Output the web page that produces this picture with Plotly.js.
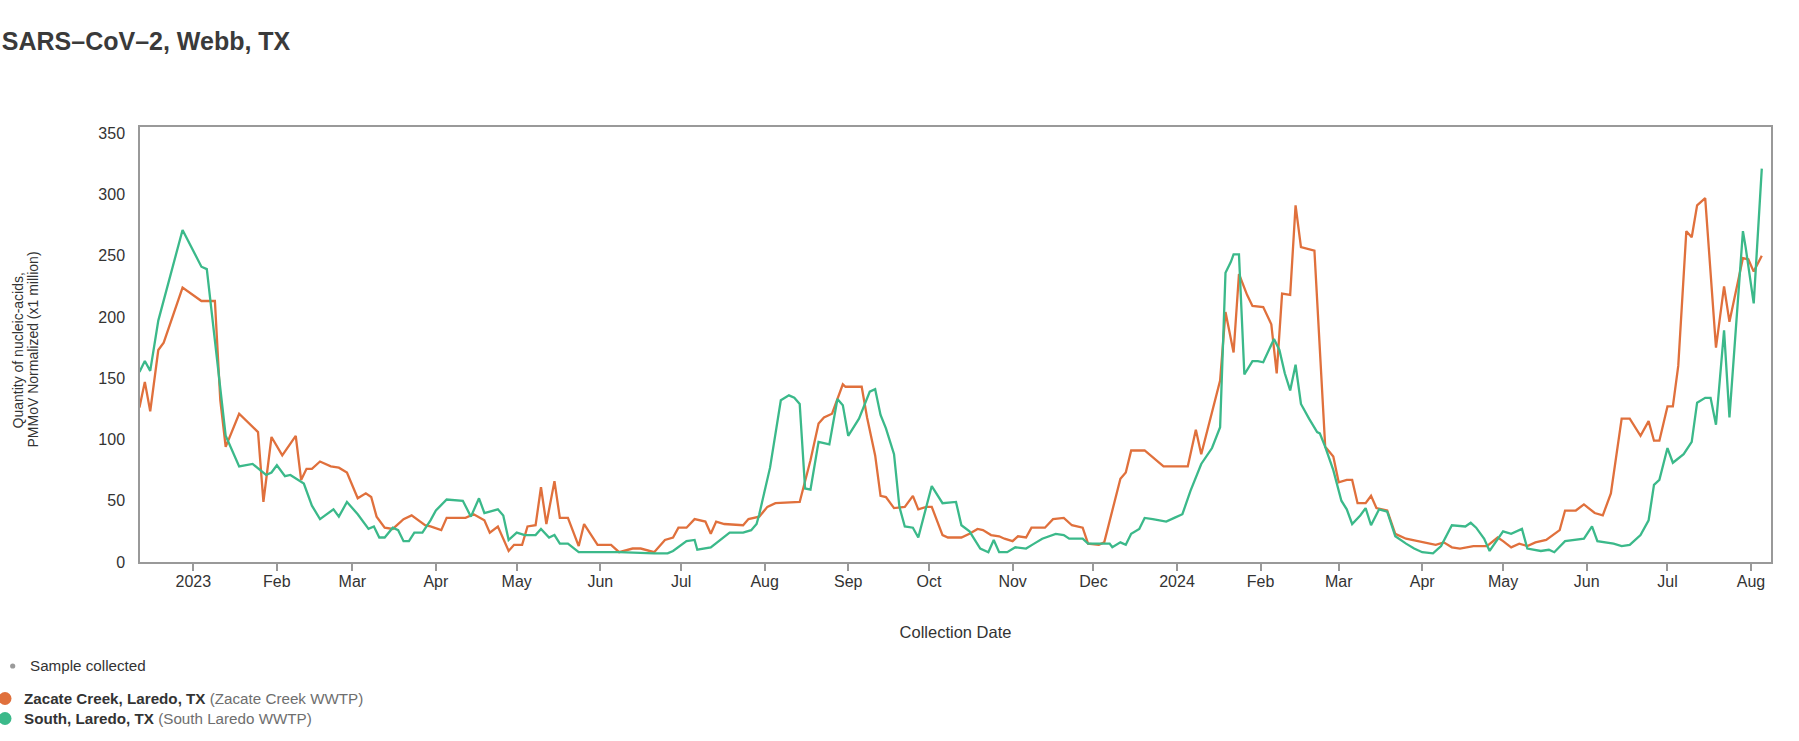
<!DOCTYPE html>
<html>
<head>
<meta charset="utf-8">
<script src="https://cdn.plot.ly/plotly-3.0.1.min.js"></script>
<style>
  html, body { margin: 0; padding: 0; background: #fff; }
  #chart { width: 1799px; height: 741px; }
</style>
</head>
<body>
<div id="chart"></div>
<script>
// SARS-CoV-2 wastewater levels, Webb county TX
// sample days are counted from 2023-01-01

var zacateDay = [-20,-18,-16,-13,-11,-4,3,8,10,12,17,24,26,29,33,38,40,42,44,47,51,54,57,61,64,66,68,71,74,78,81,86,88,92,94,101,104,108,110,113,117,119,122,124,127,129,131,134,136,139,143,145,150,155,158,163,166,171,175,178,180,183,186,190,192,194,197,204,206,210,213,216,225,229,232,234,237,241,242,248,250,253,255,257,260,264,267,269,272,274,278,280,285,288,291,293,296,299,301,304,306,309,311,316,319,323,326,330,332,336,338,341,344,346,348,353,360,369,372,374,381,383,386,388,391,393,397,400,402,404,407,409,411,416,420,423,425,428,430,432,435,437,439,443,446,450,458,461,464,467,470,475,480,484,486,489,492,495,498,502,507,509,513,516,520,523,526,530,533,537,540,542,544,547,549,551,554,556,558,561,565,568,570,575,577,579,582];
var zacateVal = [126,147,123,173,179,224,213,213,132,94,121,106,49,102,87,103,67,76,76,82,78,77,73,52,56,53,37,28,27,35,38,30,29,26,36,36,39,34,24,29,9,14,14,29,30,61,31,66,36,36,13,31,14,14,8,11,11,8,18,20,28,28,35,33,23,33,31,30,35,37,45,48,49,83,113,118,121,145,143,143,118,87,54,53,44,45,54,43,45,45,22,20,20,23,27,26,22,21,19,17,21,20,28,28,35,36,30,28,15,14,16,41,68,73,91,91,78,78,108,88,148,204,171,235,218,209,208,194,154,219,218,291,257,254,94,86,65,67,67,48,48,54,44,42,23,19,15,14,16,12,11,13,13,20,17,12,15,13,16,18,26,42,42,47,40,38,56,117,117,103,115,99,99,127,127,160,270,265,291,297,175,225,196,248,247,237,250];

var southDay = [-20,-18,-16,-13,-4,3,5,10,12,17,22,27,29,31,34,36,41,44,47,52,54,57,61,65,67,69,71,74,76,78,80,82,85,88,90,94,100,103,106,108,113,115,117,120,123,127,129,132,134,136,139,143,150,158,171,176,178,183,186,187,192,199,204,207,209,210,214,218,221,223,225,227,229,232,236,239,241,243,247,251,253,255,257,260,262,264,267,269,274,278,283,285,288,292,295,297,299,302,305,309,312,315,320,323,325,330,332,340,341,344,346,348,351,353,356,361,364,367,370,374,378,381,383,385,386,388,390,393,395,397,401,403,405,407,409,411,414,417,418,420,423,426,428,430,433,435,437,440,443,446,450,453,456,460,463,467,472,474,476,479,481,484,486,489,493,495,500,503,505,509,516,519,521,527,530,533,537,540,542,544,547,549,553,556,558,561,563,565,568,570,573,575,576,579,582];
var southVal = [155,164,156,197,271,241,239,140,103,78,80,71,73,79,70,71,64,46,35,43,37,49,39,27,29,20,20,28,26,17,17,24,24,34,42,51,50,37,52,40,43,38,18,24,22,22,27,20,22,15,15,8,8,8,7,7,9,17,18,10,12,24,24,26,31,39,77,132,136,134,129,60,59,98,96,133,128,103,117,139,141,120,109,88,45,29,28,20,62,48,49,30,25,11,8,18,8,8,12,11,15,19,23,22,19,19,15,15,12,16,14,23,27,36,35,33,36,39,58,80,93,110,236,245,251,251,153,164,164,163,182,173,154,140,161,129,117,106,105,94,75,50,43,31,38,44,30,43,41,21,15,11,8,7,13,30,29,32,28,19,9,19,25,23,27,11,9,10,8,17,19,29,17,15,13,14,22,34,63,67,93,81,88,98,130,134,134,112,189,118,213,270,257,211,321];

var tickDates = ['2023-01-01','2023-02-01','2023-03-01','2023-04-01','2023-05-01','2023-06-01','2023-07-01','2023-08-01','2023-09-01','2023-10-01','2023-11-01','2023-12-01','2024-01-01','2024-02-01','2024-03-01','2024-04-01','2024-05-01','2024-06-01','2024-07-01','2024-08-01'];
var tickLabels = ['2023','Feb','Mar','Apr','May','Jun','Jul','Aug','Sep','Oct','Nov','Dec','2024','Feb','Mar','Apr','May','Jun','Jul','Aug'];
var yTicks = [0, 50, 100, 150, 200, 250, 300, 350];

var orange = '#e0703c';
var green = '#3bb98a';
var textCol = '#333333';
var fontFam = '"Liberation Sans", Arial, Helvetica, sans-serif';

function toDate(d) {
    return new Date(Date.UTC(2023, 0, 1 + d)).toISOString().slice(0, 10);
}

var zacate = {
    x: zacateDay.map(toDate),
    y: zacateVal,
    type: 'scatter',
    mode: 'lines',
    name: 'Zacate Creek, Laredo, TX',
    line: {color: orange, width: 2.3},
    showlegend: false
};

var south = {
    x: southDay.map(toDate),
    y: southVal,
    type: 'scatter',
    mode: 'lines',
    name: 'South, Laredo, TX',
    line: {color: green, width: 2.3},
    showlegend: false
};

// plot area in page pixels, used to place the notes round the chart
var L = 140, R = 1771, T = 127, B = 562;
function px(x) { return (x - L) / (R - L); }
function py(y) { return (B - y) / (B - T); }

function note(x, y, text, size, anchor, col, angle) {
    return {
        xref: 'paper', yref: 'paper',
        x: px(x), y: py(y),
        xanchor: anchor, yanchor: 'middle',
        text: text, showarrow: false,
        textangle: angle || 0,
        font: {family: fontFam, size: size, color: col || textCol}
    };
}

// legend dot (pixel sized circle under the chart)
function dot(x, y, r, col) {
    return {
        type: 'circle',
        xref: 'paper', yref: 'paper',
        xsizemode: 'pixel', ysizemode: 'pixel',
        xanchor: px(x), yanchor: py(y),
        x0: -r, x1: r, y0: -r, y1: r,
        fillcolor: col,
        line: {width: 0}
    };
}

var legendSize = 15.2;

var layout = {
    width: 1799,
    height: 741,
    paper_bgcolor: '#fff',
    plot_bgcolor: '#fff',
    margin: {l: L, r: 1799 - R, t: T, b: 741 - B, pad: 0},
    font: {family: fontFam, color: textCol},
    title: {
        text: '<b>SARS–CoV–2, Webb, TX</b>',
        font: {family: fontFam, size: 25, color: '#3a3a3a'},
        xref: 'container', yref: 'container',
        x: 0.001, xanchor: 'left',
        y: 1 - 41 / 741, yanchor: 'middle'
    },
    xaxis: {
        type: 'date',
        range: ['2022-12-12 05:00', '2024-08-08 10:00'],
        tickvals: tickDates,
        ticktext: tickLabels,
        ticks: 'outside',
        ticklen: 7,
        tickcolor: '#999',
        tickwidth: 1.5,
        ticklabelstandoff: -3,
        tickfont: {size: 16, color: textCol},
        showgrid: false,
        zeroline: false,
        showline: true,
        mirror: true,
        linecolor: '#999',
        linewidth: 1.5,
        title: {text: 'Collection Date', font: {size: 16.5, color: textCol}, standoff: 37}
    },
    yaxis: {
        range: [0, 355],
        tickvals: yTicks,
        ticks: '',
        ticklabelstandoff: 10,
        tickfont: {size: 16, color: textCol},
        showgrid: false,
        zeroline: false,
        showline: true,
        mirror: true,
        linecolor: '#999',
        linewidth: 1.5
    },
    showlegend: false,
    shapes: [
        dot(12.7, 666, 2.6, '#9a9a9a'),
        dot(5, 698.5, 6.5, orange),
        dot(5, 718.5, 6.5, green)
    ],
    annotations: [
        // y axis title, two tight lines
        note(17.5, 350, 'Quantity of nucleic-acids,', 14, 'center', textCol, -90),
        note(32.5, 350, 'PMMoV Normalized (x1 million)', 14, 'center', textCol, -90),
        // legend text under the chart
        note(28, 665, 'Sample collected', legendSize, 'left'),
        note(22, 698, '<b>Zacate Creek, Laredo, TX</b> <span style="color:#6e6e6e">(Zacate Creek WWTP)</span>', legendSize, 'left'),
        note(22, 718, '<b>South, Laredo, TX</b> <span style="color:#6e6e6e">(South Laredo WWTP)</span>', legendSize, 'left')
    ]
};

Plotly.newPlot('chart', [zacate, south], layout, {displayModeBar: false, responsive: false});
</script>
</body>
</html>
